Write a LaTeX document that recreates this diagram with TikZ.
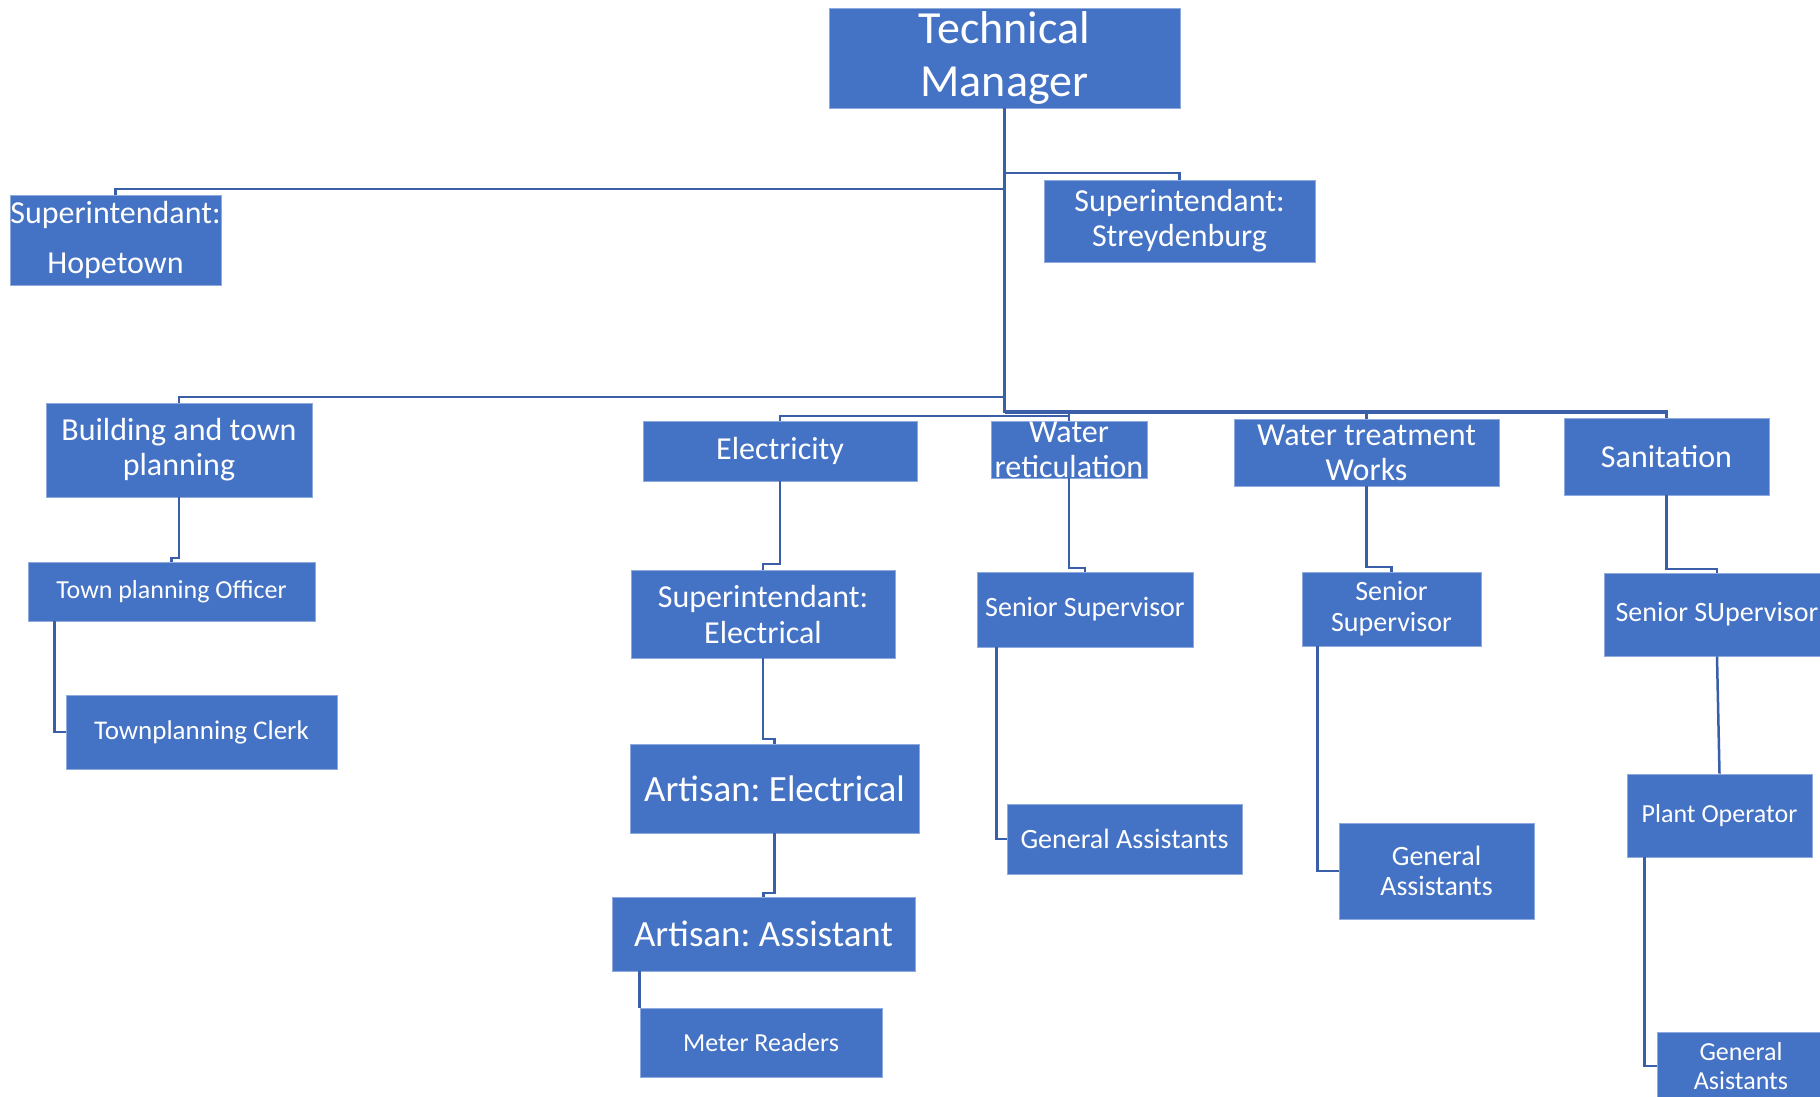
\documentclass[tikz,border=0pt]{standalone}
\usepackage{fontspec}
\setmainfont{Carlito}
\frenchspacing
\definecolor{boxblue}{HTML}{4472C4}
\definecolor{boxedge}{HTML}{8FAADC}
\definecolor{linkblue}{HTML}{3B5EA8}
\tikzset{
 orgbox/.style={rectangle, fill=boxblue, draw=boxedge, line width=0.8pt, text=white, inner sep=0pt, align=center},
 link/.style={draw=linkblue, line width=2.5pt},
 bus/.style={draw=linkblue, line width=3.5pt},
}
\newcommand\obox[8]{\node[orgbox, minimum width={#4pt-#2pt}, minimum height={#5pt-#3pt}, font={\fontsize{#6}{#7}\selectfont}] (#1) at ({(#2+#4)/2},{(#3+#5)/2}) {#8};}
\begin{document}
\begin{tikzpicture}[x=1pt,y=-1pt]
\useasboundingbox (0,0) rectangle (1820,1096);
\clip (0,0) rectangle (1820,1096);
\fill[white] (0,0) rectangle (1820,1096);
% boxes
\obox{tm}{829}{8}{1180}{108}{46}{53}{Technical\\Manager}
\obox{hope}{10}{195}{221}{285}{32}{50}{Superintendant:\\Hopetown}
\obox{streyd}{1044}{180}{1315}{262}{32}{35}{Superintendant:\\Streydenburg}
\obox{build}{46}{403}{312}{497}{32}{35}{Building and town\\planning}
\obox{tpo}{28}{562}{315}{621}{26}{30}{Town planning Officer}
\obox{clerk}{66}{695}{337}{769}{27}{31}{Townplanning Clerk}
\obox{elec}{643}{421}{917}{481}{32}{35}{Electricity}
\obox{se}{631}{570}{895}{658}{32}{36}{Superintendant:\\Electrical}
\obox{ae}{630}{744}{919}{833}{37}{42}{Artisan: Electrical}
\obox{aa}{612}{897}{915}{971}{37}{42}{Artisan: Assistant}
\obox{mr}{640}{1008}{882}{1077}{26}{30}{Meter Readers}
\obox{wr}{991}{421}{1147}{478}{32}{35}{Water\\reticulation}
\obox{wtw}{1234}{419}{1499}{486}{32}{35}{Water treatment\\Works}
\obox{san}{1564}{418}{1769}{495}{32}{35}{Sanitation}
\obox{sswr}{977}{572}{1193}{647}{28}{32}{Senior Supervisor}
\obox{gawr}{1007}{804}{1242}{874}{28}{32}{General Assistants}
\obox{sswtw}{1302}{572}{1481}{646}{28}{31}{Senior\\Supervisor}
\obox{gawtw}{1339}{823}{1534}{919}{28}{30}{General\\Assistants}
\obox{sss}{1604}{573}{1830}{656}{28}{32}{Senior SUpervisor}
\obox{po}{1627}{774}{1812}{857}{26}{30}{Plant Operator}
\obox{gas}{1657}{1032}{1825}{1100}{26}{29}{General\\Asistants}
% top-level connectors
\draw[link] (tm.south) -- (tm.south |- 0,413);
\draw[link] (tm.south |- 0,173) -- (streyd.north |- 0,173) -- (streyd.north);
\draw[link] (tm.south |- 0,189) -- (hope.north |- 0,189) -- (hope.north);
\draw[link] (tm.south |- 0,397) -- (build.north |- 0,397) -- (build.north);
\draw[link] (wr.north |- 0,416) -- (elec.north |- 0,416) -- (elec.north);
\draw[bus] (tm.south |- 0,412) -- (san.north |- 0,412) -- (san.north);
\draw[link] (wtw.north |- 0,412) -- (wtw.north);
\draw[link] (wr.north |- 0,412) -- (wr.north);
% building branch
\draw[link] (build.south) -- (build.south |- 0,558) -- (tpo.north |- 0,558) -- (tpo.north);
\coordinate (tpoout) at ([xshift=27pt]tpo.south west);
\draw[link] (tpoout) -- (tpoout |- clerk.west) -- (clerk.west);
% electricity branch
\draw[link] (elec.south) -- (elec.south |- 0,564) -- (se.north |- 0,564) -- (se.north);
\draw[link] (se.south) -- (se.south |- 0,739) -- (ae.north |- 0,739) -- (ae.north);
\draw[link] (ae.south) -- (ae.south |- 0,893) -- (aa.north |- 0,893) -- (aa.north);
\coordinate (aaout) at ([xshift=28pt]aa.south west);
\draw[link] (aaout) -- (mr.north west);
% water reticulation branch
\draw[link] (wr.south) -- (wr.south |- 0,568) -- (sswr.north |- 0,568) -- (sswr.north);
\coordinate (sswrout) at ([xshift=20pt]sswr.south west);
\draw[link] (sswrout) -- (sswrout |- gawr.west) -- (gawr.west);
% water treatment branch
\draw[link] (wtw.south) -- (wtw.south |- 0,567) -- (sswtw.north |- 0,567) -- (sswtw.north);
\coordinate (sswtwout) at ([xshift=16pt]sswtw.south west);
\draw[link] (sswtwout) -- (sswtwout |- gawtw.west) -- (gawtw.west);
% sanitation branch
\draw[link] (san.south) -- (san.south |- 0,569) -- (sss.north |- 0,569) -- (sss.north);
\draw[link] (sss.south) -- (po.north);
\coordinate (poout) at ([xshift=18pt]po.south west);
\draw[link] (poout) -- (poout |- gas.west) -- (gas.west);
\end{tikzpicture}
\end{document}
